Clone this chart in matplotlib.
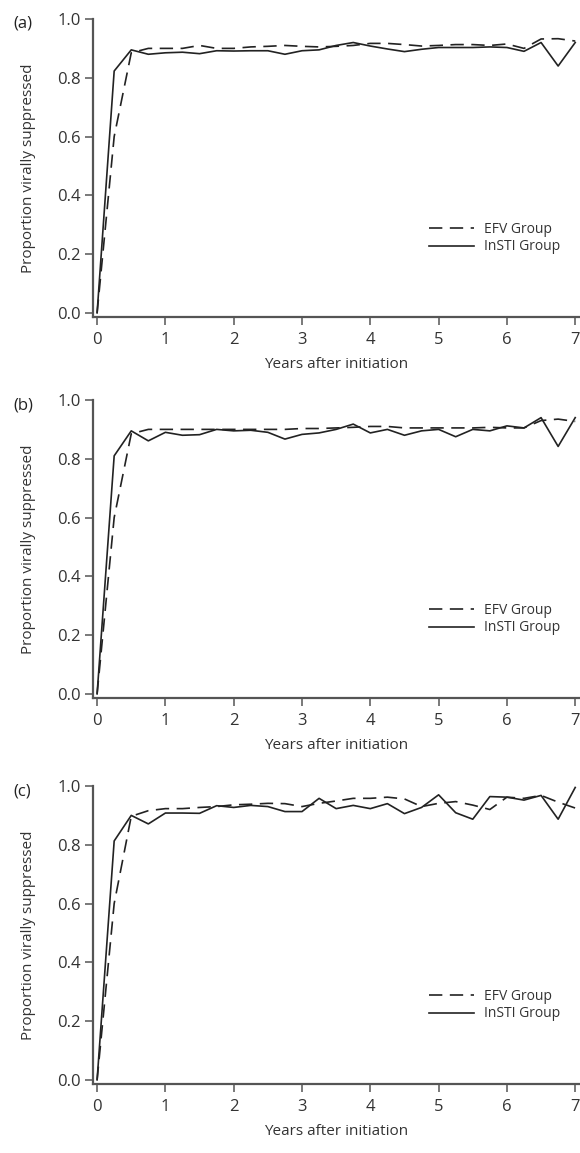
import matplotlib
matplotlib.use('Agg')
from matplotlib import pyplot as plt

plt.rcParams['font.family'] = ['Open Sans', 'DejaVu Sans']

# time points (years), every 3 months
years = [0, 0.25, 0.5, 0.75, 1, 1.25, 1.5, 1.75, 2, 2.25, 2.5, 2.75, 3, 3.25, 3.5,
         3.75, 4, 4.25, 4.5, 4.75, 5, 5.25, 5.5, 5.75, 6, 6.25, 6.5, 6.75, 7]

# panel (a)
efv_a = [0, 0.60, 0.885, 0.90, 0.90, 0.90, 0.91, 0.90, 0.90, 0.905, 0.907, 0.91, 0.907, 0.905, 0.907,
         0.91, 0.917, 0.917, 0.913, 0.908, 0.91, 0.913, 0.913, 0.91, 0.915, 0.90, 0.932, 0.933, 0.925]
insti_a = [0, 0.823, 0.895, 0.88, 0.885, 0.887, 0.882, 0.892, 0.891, 0.892, 0.892, 0.88, 0.892, 0.895, 0.91,
           0.92, 0.908, 0.898, 0.889, 0.897, 0.903, 0.903, 0.903, 0.905, 0.903, 0.89, 0.92, 0.84, 0.92]

# panel (b)
efv_b = [0, 0.60, 0.885, 0.90, 0.90, 0.90, 0.90, 0.90, 0.90, 0.90, 0.90, 0.90, 0.903, 0.903, 0.905,
         0.907, 0.91, 0.91, 0.905, 0.905, 0.905, 0.905, 0.905, 0.907, 0.905, 0.905, 0.93, 0.935, 0.927]
insti_b = [0, 0.81, 0.895, 0.861, 0.89, 0.88, 0.882, 0.90, 0.895, 0.897, 0.89, 0.867, 0.883, 0.888, 0.90,
           0.918, 0.888, 0.90, 0.88, 0.895, 0.90, 0.875, 0.90, 0.895, 0.912, 0.905, 0.94, 0.842, 0.94]

# panel (c)
efv_c = [0, 0.60, 0.897, 0.916, 0.923, 0.923, 0.927, 0.93, 0.936, 0.938, 0.941, 0.94, 0.93, 0.941, 0.949,
         0.958, 0.958, 0.962, 0.956, 0.93, 0.941, 0.947, 0.935, 0.92, 0.962, 0.958, 0.968, 0.945, 0.925]
insti_c = [0, 0.813, 0.90, 0.871, 0.908, 0.908, 0.907, 0.933, 0.927, 0.934, 0.93, 0.913, 0.913, 0.958, 0.923,
           0.934, 0.923, 0.94, 0.906, 0.927, 0.97, 0.909, 0.887, 0.964, 0.962, 0.952, 0.968, 0.887, 0.995]

panels = [('(a)', efv_a, insti_a), ('(b)', efv_b, insti_b), ('(c)', efv_c, insti_c)]
yticks = [0.0, 0.2, 0.4, 0.6, 0.8, 1.0]
xticks = [0, 1, 2, 3, 4, 5, 6, 7]

W, H = 580, 1153
fig = plt.figure(figsize=(W / 100, H / 100), dpi=100)

tops = [19, 400, 786]   # pixel row of the 1.0 tick in each panel
ax_left, ax_right = 93, 580
gray = '#555555'
ink = '#222222'
txt = '#333333'

for (lab, efv, insti), top in zip(panels, tops):
    bottom = top + 298
    ax = fig.add_axes([ax_left / W, 1 - bottom / H, (ax_right - ax_left) / W, (bottom - top) / H])
    ax.plot(years, efv, color=ink, lw=1.2, dashes=(8, 4.5), label='EFV Group')
    ax.plot(years, insti, color=ink, lw=1.2, label='InSTI Group')
    ax.set_xlim(-0.06, 7.07)
    ax.set_ylim(-0.014, 1.0)
    ax.set_xticks(xticks)
    ax.set_yticks(yticks)
    ax.set_yticklabels(['%.1f' % v for v in yticks])
    for s in ['top', 'right']:
        ax.spines[s].set_visible(False)
    for s in ['left', 'bottom']:
        ax.spines[s].set_color(gray)
        ax.spines[s].set_linewidth(1.6)
    ax.tick_params(direction='out', length=5.5, width=1.1, color=gray,
                   labelsize=12, labelcolor=txt)
    ax.tick_params(axis='x', pad=5)
    ax.tick_params(axis='y', pad=3.5)
    ax.set_xlabel('Years after initiation', fontsize=11, color=txt, labelpad=7)
    ax.set_ylabel('Proportion virally suppressed', fontsize=11, color=txt, labelpad=15)
    ax.legend(loc='center left', bbox_to_anchor=(0.665, 0.265), frameon=False,
              fontsize=10, handlelength=3.2, handletextpad=0.7, labelspacing=0.2,
              labelcolor=txt)
    fig.text(13 / W, 1 - (top + 5) / H, lab, fontsize=12, color=ink, va='center', ha='left')

fig.savefig('out.png', dpi=100)
